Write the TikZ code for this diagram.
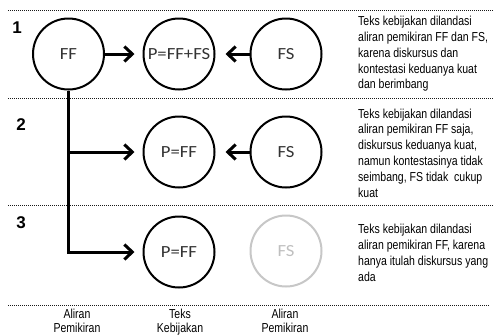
\documentclass[tikz,border=0pt]{standalone}
\usepackage{fontspec}
\setmainfont{Liberation Sans}
\newfontfamily\narrowfont{Liberation Sans}[FakeStretch=0.81]
\newfontfamily\circfont{Carlito}[FakeStretch=1.1]
\usetikzlibrary{arrows.meta}
\begin{document}
\begin{tikzpicture}[x=1pt,y=-1pt,
  sep/.style={draw=black!90,line width=0.9pt,dash pattern=on 1pt off 1pt},
  bubble/.style={circle,draw=black,line width=2pt,minimum size=71pt,inner sep=0pt,
    text=black!80,font=\circfont\fontsize{17}{19}\selectfont},
  faded/.style={bubble,draw=black!22,text=black!25},
  arr/.style={line width=3pt,-{Straight Barb[length=8pt,width=15pt,line width=3pt]},
    shorten >=8pt,line join=miter},
  note/.style={anchor=north west,inner sep=0pt,align=left,
    font=\narrowfont\fontsize{13}{15.8}\selectfont},
  caption/.style={anchor=north,inner sep=0pt,align=center,
    font=\narrowfont\fontsize{13}{14.5}\selectfont},
  rownum/.style={inner sep=0pt,font=\bfseries\fontsize{17}{17}\selectfont}]
\useasboundingbox (0,0) rectangle (493,335);

% separators between the rows
\draw[sep] (8,10) -- (493,10);
\draw[sep] (8,98.5) -- (493,98.5);
\draw[sep] (8,205) -- (493,205);
\draw[sep] (8,305.5) -- (490,305.5);

% row numbers
\node[rownum] (n1) at (17,28) {1};
\node[rownum] (n2) at (21,125) {2};
\node[rownum] (n3) at (21,223) {3};

% row 1
\node[bubble] (ff) at (68.5,54) {FF};
\node[bubble] (p1) at (179,54) {P=FF+FS};
\node[bubble] (fs1) at (286,54) {FS};
% row 2
\node[bubble] (p2) at (179,152) {P=FF};
\node[bubble] (fs2) at (286,152) {FS};
% row 3
\node[bubble] (p3) at (179,252) {P=FF};
\node[faded] (fs3) at (286,251) {FS};

% connectors
\draw[arr] (ff) -- (p1);
\draw[arr,shorten >=10pt] (fs1) -- (p1);
\draw[arr] (ff.south) |- (p2);
\draw[arr] (ff.south) |- (p3);
\draw[arr,shorten >=10pt] (fs2) -- (p2);

% explanations
\node[note] (t1) at (358,16) {Teks kebijakan dilandasi\\aliran pemikiran FF dan FS,\\karena diskursus dan\\kontestasi keduanya kuat\\dan berimbang};
\node[note] (t2) at (358,108.5) {Teks kebijakan dilandasi\\aliran pemikiran FF saja,\\diskursus keduanya kuat,\\namun kontestasinya tidak\\seimbang, FS tidak\ \ cukup\\kuat};
\node[note] (t3) at (358,224) {Teks kebijakan dilandasi\\aliran pemikiran FF, karena\\hanya itulah diskursus yang\\ada};

% column captions
\node[caption] (c1) at (77,308.5) {Aliran\\Pemikiran};
\node[caption] (c2) at (180,308.5) {Teks\\Kebijakan};
\node[caption] (c3) at (285,308.5) {Aliran\\Pemikiran};
\end{tikzpicture}
\end{document}
